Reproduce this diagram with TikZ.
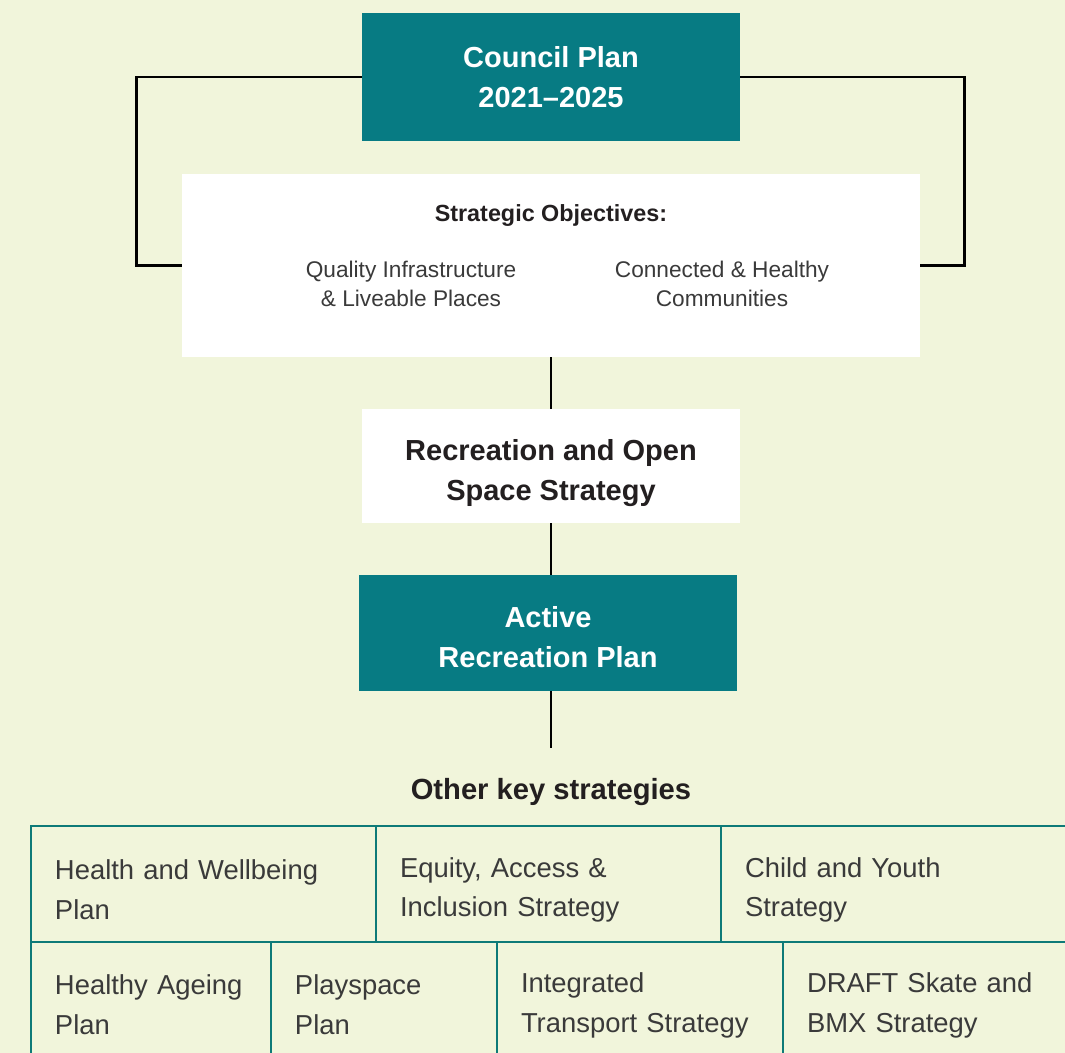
\documentclass[tikz,border=0pt]{standalone}
\usepackage{fontspec}
\setmainfont{Liberation Sans}
\usepackage{tikz}
\definecolor{planteal}{HTML}{077B83}
\definecolor{gridteal}{HTML}{0E7A78}
\definecolor{bgpale}{HTML}{F1F5DB}
\definecolor{inkdark}{HTML}{231F20}
\definecolor{inkgray}{HTML}{3A3A3A}
\newcommand{\liftline}[1]{\rule{0pt}{#1}}
\tikzset{
	planbox/.style={fill=planteal, text=white, align=center, inner sep=0pt,
		minimum width=7.56cm, font=\fontsize{16.5}{22.7}\selectfont\bfseries},
	whitebox/.style={fill=white, align=center, inner sep=0pt},
	cell/.style={draw=gridteal, line width=1.1pt, anchor=north west, align=left,
		inner xsep=0.48cm, inner ysep=0pt, outer sep=0pt, text=inkgray,
		font=\fontsize{15.6}{22.7}\selectfont},
	lift/.style={execute at begin node={\liftline{#1}}},
	link/.style={line width=1.4pt, black},
}

\begin{document}
\begin{tikzpicture}[x=0.02cm, y=-0.02cm]
\useasboundingbox (0,0) rectangle (1065,1053);
\fill[bgpale] (0,0) rectangle (1065,1053);
\clip (0,0) rectangle (1065,1053);

% the shapes
\node[planbox, minimum height=2.56cm] at (551,77) (council) {Council Plan\\2021--2025};
\node[whitebox, minimum width=14.76cm, minimum height=3.66cm] at (551,265.5) (objs) {};
\node[whitebox, minimum width=7.56cm, minimum height=2.28cm, text=inkdark,
	font=\fontsize{16.5}{22.7}\selectfont\bfseries] at (551,466) (rec) {\liftline{20pt}Recreation and Open\\Space Strategy};
\node[planbox, minimum height=2.32cm] at (548,633) (active) {\liftline{16.5pt}Active\\Recreation Plan};
\coordinate (stub) at (551,748);

% the arrows
\draw[link] (council.west) -- ++(-225,0) |- (objs.west);
\draw[link] (council.east) -- ++(224,0) |- (objs.east);
\draw[link] (objs.south) -- (rec.north);
\draw[link] (rec.south) -- (rec.south |- active.north);
\draw[link] (active.south -| stub) -- (stub);

%the names
\node[text=inkdark, font=\fontsize{13.3}{16.4}\selectfont\bfseries] at (551,216) (objhead) {Strategic Objectives:};
\node[text=inkgray, align=center, font=\fontsize{12.9}{16.4}\selectfont] at (411,284) (objq) {Quality Infrastructure\\\& Liveable Places};
\node[text=inkgray, align=center, font=\fontsize{12.9}{16.4}\selectfont] at (722,284) (objc) {Connected \& Healthy\\Communities};
\node[text=inkdark, font=\fontsize{16.6}{22.7}\selectfont\bfseries] at (551,792) (others) {Other key strategies};

%the table
\node[cell, lift=18pt, text width=5.94cm, minimum height=2.32cm] at (31,826) (health) {Health and Wellbeing\\Plan};
\node[cell, lift=18pt, text width=5.94cm, minimum height=2.32cm] at (376,826) (equity) {Equity, Access \&\\Inclusion Strategy};
\node[cell, lift=18pt, text width=6.24cm, minimum height=2.32cm] at (721,826) (youth) {Child and Youth\\Strategy};
\node[cell, text width=3.84cm, minimum height=2.52cm] at (31,942) (ageing) {Healthy Ageing\\Plan};
\node[cell, text width=3.56cm, minimum height=2.52cm] at (271,942) (play) {Playspace\\Plan};
\node[cell, text width=4.76cm, minimum height=2.52cm] at (497,942) (transport) {Integrated\\Transport Strategy};
\node[cell, text width=5.04cm, minimum height=2.52cm] at (783,942) (skate) {DRAFT Skate and\\BMX Strategy};
\end{tikzpicture}
\end{document}
